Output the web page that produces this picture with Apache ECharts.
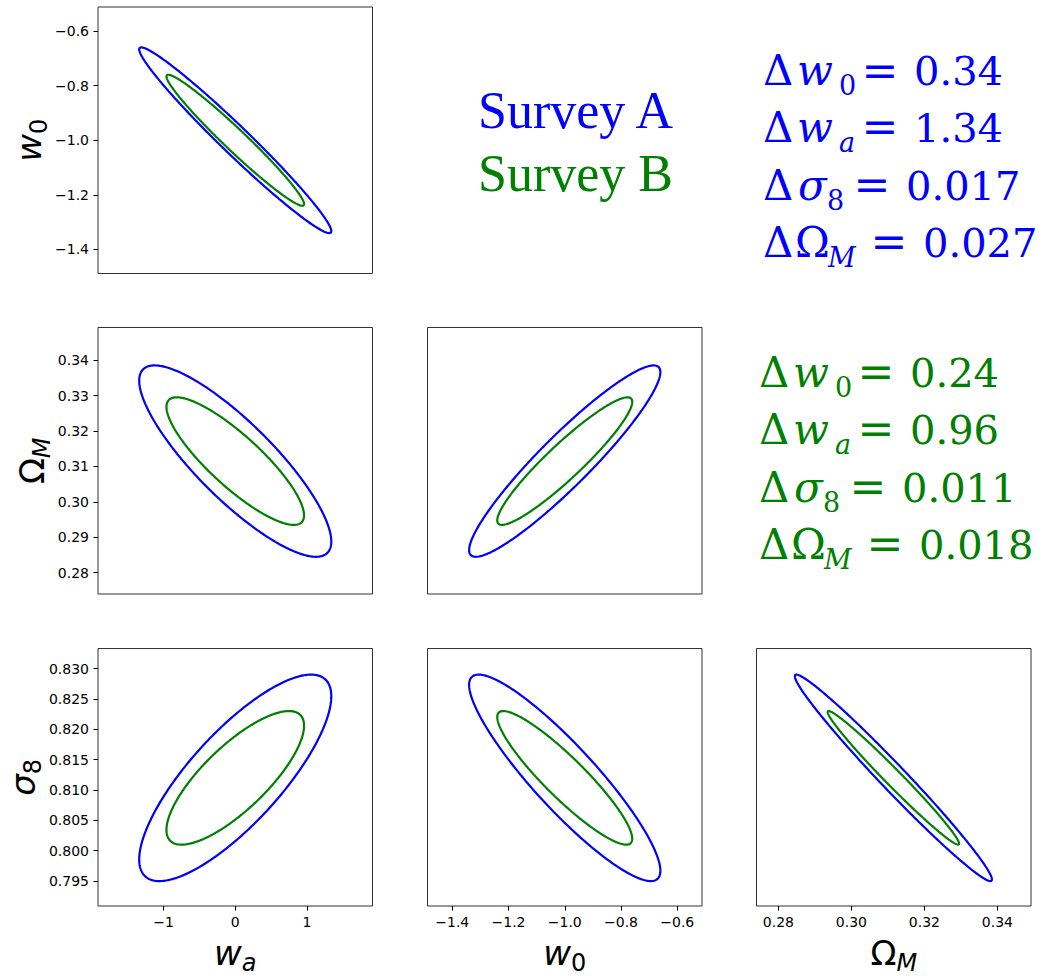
<!DOCTYPE html>
<html>
<head>
<meta charset="utf-8">
<title>Survey A vs Survey B forecast</title>
<script src="https://cdn.jsdelivr.net/npm/echarts@6/dist/echarts.min.js"></script>
<style>
  html, body { margin: 0; padding: 0; background: #ffffff; }
  #chart { width: 1053px; height: 976px; }
</style>
</head>
<body>
<div id="chart"></div>
<script>
// Parameter order: w0, wa, Omega_M, sigma_8
const paramKeys = ['w0', 'wa', 'Om', 's8'];
const fiducial = [-1.0, 0.0, 0.3115, 0.812];
// Marginalised errors of each survey
const errorsA = [0.34, 1.34, 0.027, 0.017];
const errorsB = [0.24, 0.96, 0.018, 0.011];
const errorDecimals = [2, 2, 3, 3];

// Panels as [x parameter, y parameter]
const panelPairs = [[1, 0], [1, 2], [0, 2], [1, 3], [0, 3], [2, 3]];
// Correlation coefficient of each pair, per survey
const correlationA = [-0.978, -0.84, 0.93, 0.79, -0.90, -0.984];
const correlationB = [-0.974, -0.85, 0.93, 0.78, -0.91, -0.985];

// Axis limits of each parameter
const axisRanges = [[-1.488, -0.512], [-1.915, 1.915], [0.2740, 0.3492], [0.7909, 0.8333]];

// Tick values
const w0Ticks = [-1.4, -1.2, -1.0, -0.8, -0.6];
const waTicks = [-1, 0, 1];
const omegaYTicks = [0.28, 0.29, 0.30, 0.31, 0.32, 0.33, 0.34];
const omegaXTicks = [0.28, 0.30, 0.32, 0.34];
const sigma8Ticks = [0.795, 0.800, 0.805, 0.810, 0.815, 0.820, 0.825, 0.830];
const tickDecimals = [1, 0, 2, 3];

const surveyNames = ['Survey A', 'Survey B'];
const surveyColors = ['#0000ff', '#008000'];

// ---------------------------------------------------------------
const MATH_FONT = '"DejaVu Sans"';
const TEXT_FONT = '"Liberation Serif"';
const SUMMARY_FONT = '"DejaVu Serif"';

function fmtTick(decimals) {
  return function (v) {
    const s = Math.abs(v).toFixed(decimals);
    return (v < 0 && Number(s) !== 0 ? '\u2212' : '') + s;
  };
}

// 1-sigma contour of a bivariate Gaussian with marginal errors sx, sy and correlation rho
function confidenceEllipse(cx, cy, sx, sy, rho) {
  const pts = [];
  const steps = 360;
  const k = Math.sqrt(1 - rho * rho);
  for (let i = 0; i <= steps; i++) {
    const t = 2 * Math.PI * i / steps + Math.PI / 2;
    pts.push([cx + sx * Math.cos(t), cy + sy * (rho * Math.cos(t) + k * Math.sin(t))]);
  }
  return pts;
}

const axisNameRich = {
  i: { fontFamily: MATH_FONT, fontStyle: 'italic', fontSize: 34, lineHeight: 44, color: '#000' },
  u: { fontFamily: MATH_FONT, fontSize: 34, lineHeight: 44, color: '#000' },
  s: { fontFamily: MATH_FONT, fontSize: 24, lineHeight: 24, verticalAlign: 'bottom', color: '#000' },
  si: { fontFamily: MATH_FONT, fontStyle: 'italic', fontSize: 24, lineHeight: 24, verticalAlign: 'bottom', color: '#000' }
};
const axisNames = ['{i|w}{s|0}', '{i|w}{si|a}', '{u|\u03A9}{si|M}', '{i|\u03C3}{s|8}'];

const tickSets = {
  x: [w0Ticks, waTicks, omegaXTicks, sigma8Ticks],
  y: [w0Ticks, waTicks, omegaYTicks, sigma8Ticks]
};

// Panel rectangles (left, top, width, height)
const colLeft = [98, 427.5, 756.5];
const rowTop = [7, 327.5, 648.5];
const panelW = 274.5;
const panelH = 266.5;
const panelCells = [[0, 0], [1, 0], [1, 1], [2, 0], [2, 1], [2, 2]]; // [row, col]

const grids = panelCells.map(([r, c]) => ({
  left: colLeft[c], top: rowTop[r], width: panelW, height: panelH,
  show: true, borderColor: '#333', borderWidth: 1, backgroundColor: 'transparent',
  containLabel: false
}));

const xAxes = [];
const yAxes = [];
panelPairs.forEach(([xi, yi], p) => {
  const [row, col] = panelCells[p];
  const xLabelled = row === 2;
  const yLabelled = col === 0;
  const xt = tickSets.x[xi];
  const yt = tickSets.y[yi];
  xAxes.push({
    gridIndex: p, type: 'value', position: 'bottom', min: axisRanges[xi][0], max: axisRanges[xi][1],
    axisLine: { show: false, onZero: false }, splitLine: { show: false },
    axisTick: { show: xLabelled, customValues: xt, length: 4.5, lineStyle: { color: '#000', width: 1 } },
    axisLabel: { show: xLabelled, customValues: xt, formatter: fmtTick(tickDecimals[xi]),
      margin: 9, fontSize: 14, fontFamily: MATH_FONT, color: '#000' },
    name: xLabelled ? axisNames[xi] : '', nameLocation: 'middle', nameGap: 25,
    nameTextStyle: { rich: axisNameRich }
  });
  yAxes.push({
    gridIndex: p, type: 'value', position: 'left', min: axisRanges[yi][0], max: axisRanges[yi][1],
    axisLine: { show: false, onZero: false }, splitLine: { show: false },
    axisTick: { show: yLabelled, customValues: yt, length: 4.5, lineStyle: { color: '#000', width: 1 } },
    axisLabel: { show: yLabelled, customValues: yt, formatter: fmtTick(tickDecimals[yi]),
      margin: 9, fontSize: 14, fontFamily: MATH_FONT, color: '#000' },
    name: yLabelled ? axisNames[yi] : '', nameLocation: 'middle', nameGap: 40, nameRotate: 90,
    nameTextStyle: { rich: axisNameRich }
  });
});

const series = [];
panelPairs.forEach(([xi, yi], p) => {
  [[errorsA, correlationA], [errorsB, correlationB]].forEach(([err, corr], s) => {
    series.push({
      name: surveyNames[s], type: 'line', xAxisIndex: p, yAxisIndex: p,
      data: confidenceEllipse(fiducial[xi], fiducial[yi], err[xi], err[yi], corr[p]),
      showSymbol: false, symbol: 'none', silent: true, animation: false,
      lineStyle: { color: surveyColors[s], width: 2.2, cap: 'round', join: 'round' },
      itemStyle: { color: surveyColors[s] },
      z: 2 + s
    });
  });
});

// Survey names and error summaries; y is the text baseline
const graphics = [];
function addText(text, x, baseline, size, color, family, style, align) {
  graphics.push({
    type: 'text', x: x, y: baseline - 0.34 * size, silent: true,
    style: {
      text: text, fill: color,
      font: (style ? style + ' ' : '') + size + 'px ' + family,
      textAlign: align || 'left', align: align || 'left',
      textVerticalAlign: 'middle', verticalAlign: 'middle'
    }
  });
}

addText(surveyNames[0], 478, 128, 52, surveyColors[0], TEXT_FONT, '', 'left');
addText(surveyNames[1], 478, 191, 52, surveyColors[1], TEXT_FONT, '', 'left');

// Summary rows: symbol, its subscript, which error it reports
const summaryRows = [
  { sym: 'w', symStyle: 'italic', symOff: 34, sub: '0', subStyle: '', subOff: 76, param: 0, eqOff: 102 },
  { sym: 'w', symStyle: 'italic', symOff: 34, sub: 'a', subStyle: 'italic', subOff: 76, param: 1, eqOff: 102 },
  { sym: '\u03C3', symStyle: 'italic', symOff: 35, sub: '8', subStyle: '', subOff: 64, param: 3, eqOff: 94 },
  { sym: '\u03A9', symStyle: '', symOff: 32, sub: 'M', subStyle: 'italic', subOff: 65, param: 2, eqOff: 111 }
];
const summaryBlocks = [
  { errors: errorsA, color: surveyColors[0], x0: 763, baselines: [85, 141.7, 199.3, 256.7] },
  { errors: errorsB, color: surveyColors[1], x0: 759, baselines: [386.7, 443.3, 501.7, 558.3] }
];
summaryBlocks.forEach(b => {
  summaryRows.forEach((r, i) => {
    const y = b.baselines[i];
    addText('\u0394', b.x0, y, 42, b.color, SUMMARY_FONT, '', 'left');
    addText(r.sym, b.x0 + r.symOff, y, 42, b.color, SUMMARY_FONT, r.symStyle, 'left');
    addText(r.sub, b.x0 + r.subOff, y + 10, 27, b.color, SUMMARY_FONT, r.subStyle, 'left');
    addText('=', b.x0 + r.eqOff + 15, y, 44, b.color, SUMMARY_FONT, '', 'center');
    addText(b.errors[r.param].toFixed(errorDecimals[r.param]), b.x0 + r.eqOff + 49, y, 40, b.color, SUMMARY_FONT, '', 'left');
  });
});

const chart = echarts.init(document.getElementById('chart'), null, { renderer: 'svg', width: 1053, height: 976 });
chart.setOption({
  backgroundColor: '#ffffff',
  animation: false,
  grid: grids,
  xAxis: xAxes,
  yAxis: yAxes,
  series: series,
  graphic: graphics
});
</script>
</body>
</html>
